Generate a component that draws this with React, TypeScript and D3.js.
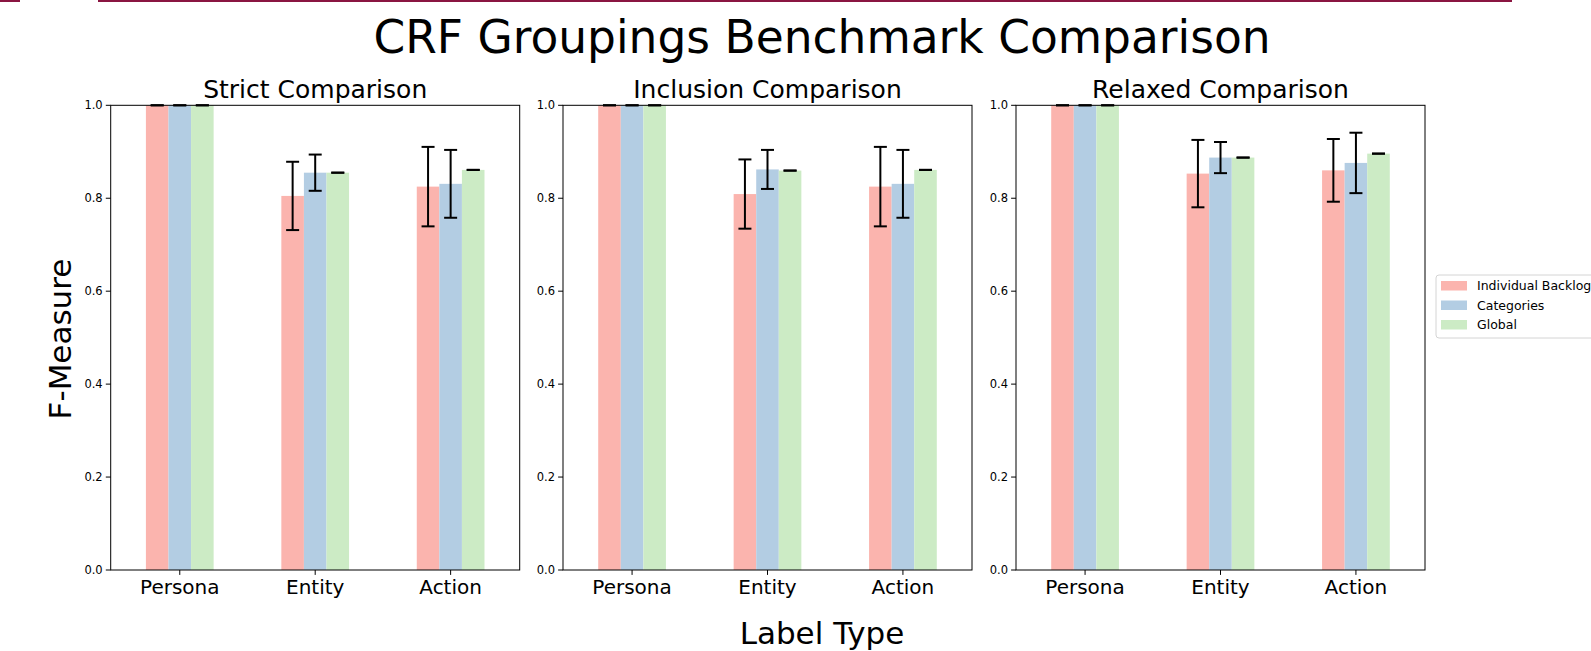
import React from 'react';
import * as d3 from 'd3';

const categories = ['Persona', 'Entity', 'Action'];
const seriesNames = ['Individual Backlog', 'Categories', 'Global'];
const seriesColors = ['#fbb4ae', '#b3cde3', '#ccebc5'];
const panelTitles = ['Strict Comparison', 'Inclusion Comparison', 'Relaxed Comparison'];
const yTicks = [0.0, 0.2, 0.4, 0.6, 0.8, 1.0];

// means per panel, per series, per category
const strictIndividual = [1.0, 0.805, 0.825];
const strictCategories = [1.0, 0.855, 0.831];
const strictGlobal = [1.0, 0.855, 0.861];
const strictIndividualErr = [0, 0.0735, 0.0855];
const strictCategoriesErr = [0, 0.039, 0.073];
const strictGlobalErr = [0, 0, 0];

const inclusionIndividual = [1.0, 0.809, 0.825];
const inclusionCategories = [1.0, 0.862, 0.831];
const inclusionGlobal = [1.0, 0.8595, 0.861];
const inclusionIndividualErr = [0, 0.0745, 0.0855];
const inclusionCategoriesErr = [0, 0.042, 0.073];
const inclusionGlobalErr = [0, 0, 0];

const relaxedIndividual = [1.0, 0.853, 0.86];
const relaxedCategories = [1.0, 0.8875, 0.876];
const relaxedGlobal = [1.0, 0.8875, 0.896];
const relaxedIndividualErr = [0, 0.0725, 0.0675];
const relaxedCategoriesErr = [0, 0.0335, 0.065];
const relaxedGlobalErr = [0, 0, 0];

const panelData = [
  { means: [strictIndividual, strictCategories, strictGlobal], errs: [strictIndividualErr, strictCategoriesErr, strictGlobalErr] },
  { means: [inclusionIndividual, inclusionCategories, inclusionGlobal], errs: [inclusionIndividualErr, inclusionCategoriesErr, inclusionGlobalErr] },
  { means: [relaxedIndividual, relaxedCategories, relaxedGlobal], errs: [relaxedIndividualErr, relaxedCategoriesErr, relaxedGlobalErr] },
];

const W = 1591;
const H = 651;
const FONT = 'DejaVu Sans, sans-serif';
const panelLefts = [110.7, 563, 1016];
const panelWidth = 409;
const top = 105.3;
const bottom = 570;
const barW = 1 / 6;
const capHalf = 6.5;

function Panel({ idx }: { idx: number }) {
  const left = panelLefts[idx];
  const x = d3.scaleLinear().domain([-0.51, 2.51]).range([left, left + panelWidth]);
  const y = d3.scaleLinear().domain([0, 1]).range([bottom, top]);
  const { means, errs } = panelData[idx];
  const unit = x(1) - x(0);
  return (
    <g>
      {means.map((vals, s) =>
        vals.map((v, c) => {
          const cx = x(c + (s - 1) * barW);
          return (
            <rect key={`b${s}-${c}`} x={cx - (barW * unit) / 2} y={y(v)} width={barW * unit} height={y(0) - y(v)} fill={seriesColors[s]} />
          );
        })
      )}
      {means.map((vals, s) =>
        vals.map((v, c) => {
          const cx = x(c + (s - 1) * barW);
          const e = errs[s][c];
          const y1 = y(v + e);
          const y2 = y(v - e);
          return (
            <g key={`e${s}-${c}`} stroke="#000" strokeWidth={2}>
              <line x1={cx} x2={cx} y1={y1} y2={y2} />
              <line x1={cx - capHalf} x2={cx + capHalf} y1={y1} y2={y1} />
              <line x1={cx - capHalf} x2={cx + capHalf} y1={y2} y2={y2} />
            </g>
          );
        })
      )}
      <rect x={left} y={top} width={panelWidth} height={bottom - top} fill="none" stroke="#000" strokeWidth={1} />
      {yTicks.map((t) => (
        <g key={`yt${t}`}>
          <line x1={left - 4.9} x2={left} y1={y(t)} y2={y(t)} stroke="#000" strokeWidth={1} />
          <text x={left - 8} y={y(t)} dy="0.35em" textAnchor="end" fontSize={11.5} fontFamily={FONT} fill="#000">
            {t.toFixed(1)}
          </text>
        </g>
      ))}
      {categories.map((cat, c) => (
        <g key={`xt${cat}`}>
          <line x1={x(c)} x2={x(c)} y1={bottom} y2={bottom + 4.9} stroke="#000" strokeWidth={1} />
          <text x={x(c)} y={594} textAnchor="middle" fontSize={20} fontFamily={FONT} fill="#000">
            {cat}
          </text>
        </g>
      ))}
      <text x={left + panelWidth / 2} y={98} textAnchor="middle" fontSize={25} fontFamily={FONT} fill="#000">
        {panelTitles[idx]}
      </text>
    </g>
  );
}

export default function App() {
  return (
    <svg width={W} height={H} style={{ position: 'absolute', left: 0, top: 0, background: '#fff', overflow: 'hidden' }}>
      <rect x={0} y={0} width={W} height={H} fill="#fff" />
      <rect x={0} y={0} width={20} height={2} fill="#8a1541" />
      <rect x={98} y={0} width={1414} height={2} fill="#8a1541" />
      <text x={822} y={53} textAnchor="middle" fontSize={45.5} fontFamily={FONT} fill="#000">
        CRF Groupings Benchmark Comparison
      </text>
      {[0, 1, 2].map((i) => (
        <Panel key={i} idx={i} />
      ))}
      <text x={822} y={644} textAnchor="middle" fontSize={31} fontFamily={FONT} fill="#000">
        Label Type
      </text>
      <text transform={`translate(71,339) rotate(-90)`} textAnchor="middle" fontSize={31} fontFamily={FONT} fill="#000">
        F-Measure
      </text>
      <g>
        <rect x={1436} y={275} width={200} height={63} rx={3} fill="#fff" fillOpacity={0.8} stroke="#d4d4d4" strokeWidth={1} />
        {seriesNames.map((name, i) => (
          <g key={name}>
            <rect x={1441} y={281 + i * 19.5} width={26} height={9.5} fill={seriesColors[i]} />
            <text x={1477} y={286 + i * 19.5} dy="0.35em" fontSize={12.5} fontFamily={FONT} fill="#000">
              {name}
            </text>
          </g>
        ))}
      </g>
    </svg>
  );
}
